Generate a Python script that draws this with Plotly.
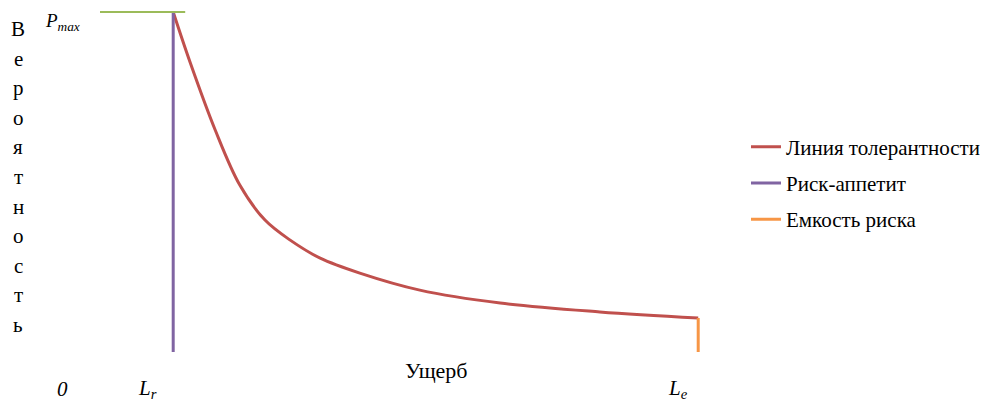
import plotly.graph_objects as go

# tolerance curve (damage vs probability)
loss = [12.2, 15.0, 19.2, 23.3, 27.5, 31.7, 36.7, 43.3, 53.3, 66.7, 83.3, 99.7]
prob = [1.0, 0.853, 0.653, 0.491, 0.388, 0.329, 0.276, 0.232, 0.182, 0.144, 0.118, 0.1]

l_r = 12.2
l_e = 99.7
p_max = 1.0

ylabel_letters = list("Вероятность")
font_family = "Times New Roman, Liberation Serif, serif"

fig = go.Figure()

fig.add_trace(go.Scatter(
    x=loss, y=prob, mode="lines", line_shape="spline",
    line=dict(color="#C0504D", width=3),
    name="Линия толерантности", legendgroup="a"
))
fig.add_trace(go.Scatter(
    x=[l_r, l_r], y=[0, p_max], mode="lines",
    line=dict(color="#8064A2", width=3),
    name="Риск-аппетит", legendgroup="b"
))
fig.add_trace(go.Scatter(
    x=[l_e, l_e], y=[0, prob[-1]], mode="lines",
    line=dict(color="#F79646", width=3),
    name="Емкость риска", legendgroup="c"
))
fig.add_trace(go.Scatter(
    x=[0, 14.2], y=[p_max, p_max], mode="lines",
    line=dict(color="#9BBB59", width=2),
    showlegend=False
))


def px_x(p):
    return (p - 100) / 606


def px_y(p):
    return (352 - p) / 344


def label(x, y, text, size=21):
    return dict(x=px_x(x), y=px_y(y), xref="paper", yref="paper", text=text,
                xanchor="center", yanchor="middle", showarrow=False,
                font=dict(size=size, color="black", family=font_family))


annotations = []
# vertical axis title, one letter per line
for i, ch in enumerate(ylabel_letters):
    annotations.append(label(18, 29 + i * 29.6, ch, 21))

annotations += [
    label(62, 389, "<i>0</i>", 21),
    label(147, 389, "<i>L<sub>r</sub></i>", 21),
    label(678, 389, "<i>L<sub>e</sub></i>", 21),
    label(62, 22, "<i>P<sub>max</sub></i>", 19),
    label(436, 370, "Ущерб", 22),
]

fig.update_layout(
    width=990, height=405,
    margin=dict(l=92, r=292, t=0, b=61),
    plot_bgcolor="white", paper_bgcolor="white",
    xaxis=dict(range=[0, 101], showgrid=False, zeroline=False, showticklabels=False, showline=False),
    yaxis=dict(range=[0, 344 / 340], showgrid=False, zeroline=False, showticklabels=False, showline=False),
    legend=dict(x=1.066, y=px_y(183), xanchor="left", yanchor="middle",
                font=dict(size=21, color="black", family=font_family),
                traceorder="grouped", tracegroupgap=6),
    annotations=annotations,
    showlegend=True,
)

fig.write_html("out.html")
